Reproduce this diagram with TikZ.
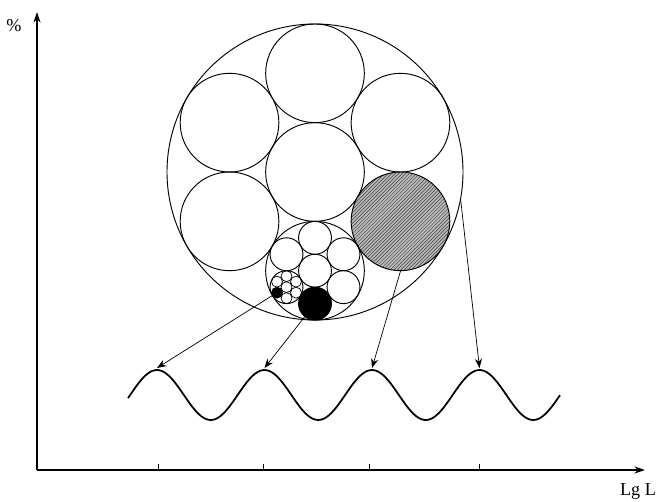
\documentclass[tikz,border=0pt]{standalone}
\usepackage{fontspec}
\setmainfont{Liberation Serif}
\usepackage{tikz}
\usetikzlibrary{arrows.meta,patterns}

\begin{document}
\begin{tikzpicture}[x=0.03cm, y=-0.03cm, every node/.style={font=\fontsize{15.5}{18}\selectfont},
      ring/.style={circle, draw, line width=0.8pt, inner sep=0pt},
      large/.style={ring, minimum size=2.96cm},
      small/.style={ring, minimum size=0.987cm},
      tiny/.style={ring, line width=0.6pt, minimum size=0.329cm},
      hatch/.style={preaction={fill=gray!55}, pattern=north east lines, pattern color=black!75},
      link/.style={-{Stealth[length=8pt,width=6pt]}, line width=0.6pt},
      axis/.style={-{Stealth[length=9pt,width=6pt]}, line width=0.9pt}]
    \useasboundingbox (0,0) rectangle (659,502);
    % axes
    \coordinate (o) at (37,470);
    \coordinate (ytip) at (37,12);
    \coordinate (xtip) at (645,470);
    \draw[axis] (o) -- (ytip);
    \draw[axis] (o) -- (xtip);
    \foreach \x in {158,263,369,479}
      \draw[line width=0.8pt] (\x,470) -- (\x,464);
    \node (pct) at (14,26) {\%};
    \node (lgl) at (638,492) {Lg L};
    % first level
    \node[ring, minimum size=8.88cm] (big) at (315,172) {};
    \node[large] (big-c) at (big.center) {};
    \foreach \a in {150,210,270,330}
      \node[large] (big-\a) at ([shift={(\a:98.7)}]big.center) {};
    \node[large, hatch] (big-30) at ([shift={(30:98.7)}]big.center) {};
    \node[large] (mid) at ([shift={(90:98.7)}]big.center) {};
    % second level
    \node[small] (mid-c) at (mid.center) {};
    \foreach \a in {30,210,270,330}
      \node[small] (mid-\a) at ([shift={(\a:32.9)}]mid.center) {};
    \node[small, fill=black] (dot) at ([shift={(90:32.9)}]mid.center) {};
    \node[small] (cell) at ([shift={(150:32.9)}]mid.center) {};
    % third level
    \node[tiny] (cell-c) at (cell.center) {};
    \foreach \a in {30,90,210,270,330}
      \node[tiny] (cell-\a) at ([shift={(\a:10.97)}]cell.center) {};
    \node[tiny, fill=black] (tinydot) at ([shift={(150:10.97)}]cell.center) {};
    % wave
    \draw[line width=1.5pt] plot[domain=128:560, samples=160, smooth]
      (\x, {395 - 25*cos(3.3488*(\x-157))});
    \coordinate (p1) at (157,368);
    \coordinate (p2) at (264.5,368);
    \coordinate (p3) at (372,368);
    \coordinate (p4) at (479.5,368);
    \draw[link] (tinydot) -- (p1);
    \draw[link] (dot) -- (p2);
    \draw[link] (big-30.south) -- (p3);
    \draw[link] (big.-11) -- (p4);
  \end{tikzpicture}
\end{document}
